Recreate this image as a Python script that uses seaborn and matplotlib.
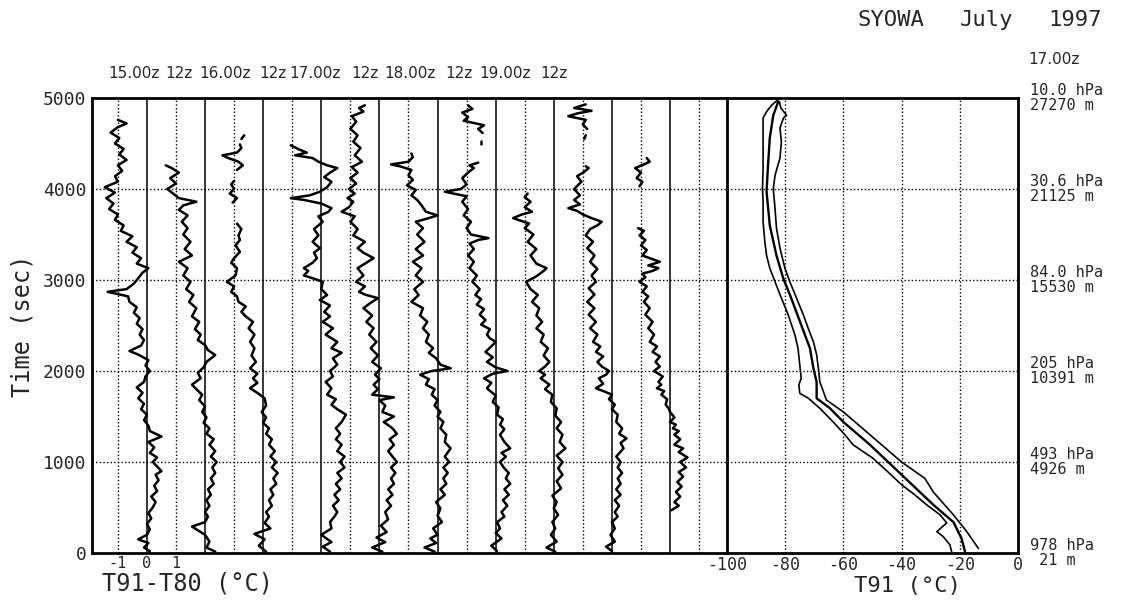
import numpy as np
import pandas as pd
import matplotlib
matplotlib.use("Agg")
import matplotlib.pyplot as plt
import matplotlib.transforms as mtransforms
import seaborn as sns

nan = float("nan")

# ---------------- data ----------------
launch_labels = ["15.00z", "12z", "16.00z", "12z", "17.00z", "12z", "18.00z", "12z", "19.00z", "12z"]

# T91-T80 difference traces (time in s, difference in degC); nan = gap in record
tr1_t = [20, 60, 110, 150, 200, 260, 320, 380, 440, 500, 560, 620, 680, 740, 800, 860, 900, 950, 1000, 1050,
         1100, 1160, 1220, 1280, 1340, 1400, 1460, 1520, 1580, 1640, 1700, 1760, 1820, 1880, 1940, 2000, 2060,
         2120, 2180, 2220, 2280, 2340, 2400, 2460, 2520, 2580, 2640, 2700, 2760, 2820, 2870, 2900, 2960, 3020,
         3080, 3130, 3180, 3240, 3300, 3360, 3420, 3480, 3540, 3600, 3660, 3720, 3780, 3840, 3900, 3960, 4020,
         4080, 4140, 4200, 4260, 4320, 4380, 4440, 4500, 4560, 4620, 4680, 4720, 4760]
tr1_v = [0.1, -0.1, 0.05, -0.3, 0.0, 0.1, 0.0, 0.15, 0.05, 0.2, 0.3, 0.15, 0.35, 0.25, 0.4, 0.3, 0.5, 0.35, 0.2, 0.35,
         0.1, 0.25, 0.05, 0.5, 0.1, 0.05, -0.1, 0.0, -0.2, -0.1, -0.3, -0.15, -0.35, -0.1, -0.05, 0.1, -0.05,
         0.05, -0.3, -0.6, -0.2, -0.1, -0.25, -0.15, -0.35, -0.25, -0.45, -0.35, -0.6, -0.65, -1.35, -0.7, -0.45, -0.3,
         -0.15, 0.05, -0.35, -0.2, -0.5, -0.35, -0.7, -0.5, -0.9, -0.8, -1.1, -1.0, -1.3, -1.15, -1.4, -1.1, -1.45,
         -1.0, -1.1, -0.85, -1.0, -0.7, -0.95, -0.8, -1.1, -0.95, -1.25, -1.0, -0.7, -1.0]

tr2_t = [15, 60, 125, 200, 290, 340, 400, 450, 520, 580, 640, 700, 760, 820, 880, 940, 1000, 1060, 1120, 1190,
         1250, 1310, 1370, 1430, 1490, 1550, 1610, 1680, 1740, 1800, 1850, 1920, 1980, 2040, 2100, 2175, 2230,
         2285, 2340, 2400, 2460, 2540, 2600, 2690, 2760, 2835, 2900, 2980, 3050, 3130, 3200, 3270, 3340, 3420,
         3500, 3570, 3640, 3710, 3770, 3820, 3860, 3900, 3950, 4000, 4060, 4120, 4180, 4230, 4260]
tr2_v = [0.35, 0.05, 0.15, 0.0, -0.45, 0.0, 0.1, 0.0, 0.15, 0.05, 0.2, 0.1, 0.3, 0.2, 0.35, 0.25, 0.4, 0.2, 0.35, 0.15,
         0.3, 0.05, 0.15, -0.05, 0.05, -0.1, 0.0, -0.2, -0.1, -0.3, -0.45, -0.15, -0.25, -0.05, 0.05, 0.35, 0.1,
         0.0, -0.25, -0.15, -0.35, -0.2, -0.45, -0.3, -0.55, -0.4, -0.65, -0.5, -0.75, -0.6, -0.9, -0.45, -0.7, -0.5,
         -0.75, -0.6, -0.8, -0.6, -0.9, -0.75, -0.3, -0.9, -1.1, -1.3, -1.0, -1.2, -0.9, -1.15, -1.35]

tr3_t = [15, 80, 150, 210, 270, 330, 400, 450, 520, 580, 640, 700, 760, 820, 880, 940, 1000, 1060, 1120, 1190,
         1250, 1310, 1370, 1430, 1490, 1550, 1620, 1700, 1760, 1810, 1870, 1920, 1970, 2030, 2100, 2170, 2250,
         2320, 2400, 2470, 2540, 2600, 2650, 2710, 2760, 2820, 2870, 2930, 2980, 3050, 3130, 3190, 3240, 3310,
         3380, 3440, 3490, 3560, 3620, nan, 3850, 3900, 3950, 4000, 4050, 4090, nan, 4210, 4260, 4300, 4340,
         4370, 4400, 4450, 4490, nan, 4550, 4590]
tr3_v = [0.1, -0.15, 0.05, -0.3, 0.25, 0.05, 0.2, 0.1, 0.3, 0.2, 0.35, 0.25, 0.45, 0.35, 0.5, 0.3, 0.45, 0.25, 0.4, 0.2,
         0.3, 0.1, 0.2, 0.0, 0.1, -0.05, 0.1, 0.05, -0.2, -0.45, -0.2, -0.35, -0.2, -0.45, -0.25, -0.4, -0.3,
         -0.45, -0.3, -0.5, -0.35, -0.6, -0.75, -0.6, -0.85, -0.9, -1.1, -1.0, -1.25, -0.95, -0.9, -1.1, -1.0, -0.8,
         -0.95, -0.8, -0.85, -0.75, -0.9, nan, -1.05, -0.9, -1.15, -1.0, -1.1, -1.0, nan, -0.9, -0.7, -0.85, -1.2,
         -1.4, -0.9, -0.75, -0.8, nan, -0.75, -0.65]

tr4_t = [15, 70, 120, 200, 270, 340, 400, 450, 520, 580, 640, 700, 760, 820, 880, 940, 1000, 1060, 1120, 1190,
         1250, 1310, 1370, 1440, 1520, 1580, 1630, 1690, 1740, 1810, 1880, 1940, 2000, 2070, 2140, 2200, 2250,
         2320, 2400, 2470, 2540, 2600, 2650, 2720, 2780, 2835, 2900, 2980, 3020, 3050, 3100, 3130, 3190, 3240,
         3300, 3350, 3420, 3490, 3560, 3640, 3700, 3750, 3790, 3840, 3880, 3900, 3930, 3970, 4020, 4080, 4130,
         4180, 4230, 4260, 4300, 4340, 4370, 4400, 4440, 4480]
tr4_v = [0.3, 0.05, 0.35, 0.0, 0.35, 0.3, 0.45, 0.55, 0.4, 0.6, 0.45, 0.65, 0.5, 0.7, 0.55, 0.8, 0.65, 0.8, 0.55, 0.7,
         0.5, 0.65, 0.5, 0.7, 0.85, 0.55, 0.35, 0.5, 0.2, 0.35, 0.15, 0.4, 0.3, 0.55, 0.4, 0.7, 0.35,
         0.55, 0.15, 0.4, 0.05, 0.3, 0.1, 0.3, -0.05, 0.2, 0.0, 0.05, -0.3, -0.6, -0.45, -0.6, -0.3, -0.15,
         -0.25, -0.05, -0.3, -0.1, -0.25, 0.05, -0.1, 0.25, 0.35, 0.0, -0.6, -1.05, -0.4, -0.05, 0.2, 0.35, 0.1,
         0.3, 0.55, 0.2, -0.1, -0.3, -0.9, -0.5, -0.8, -1.05]

tr5_t = [15, 60, 120, 170, 230, 300, 370, 450, 520, 580, 640, 700, 760, 820, 880, 940, 1000, 1060, 1120, 1190,
         1250, 1310, 1370, 1440, 1500, 1550, 1620, 1680, 1710, 1740, 1800, 1850, 1910, 1960, 2030, 2100, 2170,
         2250, 2320, 2400, 2470, 2540, 2610, 2690, 2750, 2800, 2840, 2870, 2930, 2980, 3050, 3130, 3190, 3240,
         3300, 3350, 3420, 3490, 3560, 3640, 3700, 3750, 3800, 3860, 3900, 3950, 4000, 4060, 4120, 4180, 4240,
         4300, 4370, 4450, 4520, 4590, 4660, 4740, 4800, 4850, 4890, 4920]
tr5_v = [0.1, -0.25, 0.2, -0.1, 0.25, 0.05, 0.3, 0.2, 0.4, 0.25, 0.45, 0.3, 0.5, 0.4, 0.55, 0.4, 0.6, 0.45, 0.3, 0.5,
         0.35, 0.6, 0.45, 0.15, 0.5, 0.1, 0.2, 0.0, 0.5, -0.25, -0.05, -0.2, 0.0, -0.15, 0.05, -0.25, -0.05,
         -0.3, -0.1, -0.35, -0.2, -0.45, -0.25, -0.55, -0.3, -0.05, -0.5, -0.7, -0.5, -0.8, -0.55, -0.75, -0.45, -0.2,
         -0.55, -0.75, -0.5, -0.9, -0.75, -1.0, -0.85, -1.3, -1.05, -0.9, -1.1, -0.85, -1.05, -0.8, -1.0, -0.75, -0.95,
         -0.6, -0.85, -0.65, -0.9, -0.75, -1.0, -0.8, -0.95, -0.55, -0.7, -0.5]

tr6_t = [15, 60, 110, 160, 200, 270, 340, 410, 490, 560, 640, 700, 760, 820, 880, 940, 1000, 1060, 1150, 1220,
         1300, 1370, 1440, 1500, 1550, 1620, 1680, 1740, 1800, 1850, 1910, 1960, 2000, 2030, 2070, 2140, 2200,
         2250, 2320, 2400, 2470, 2540, 2610, 2690, 2760, 2835, 2900, 2980, 3050, 3130, 3200, 3270, 3340, 3420,
         3500, 3570, 3640, 3680, 3710, 3750, 3820, 3880, 3930, 3990, 4040, 4100, 4150, 4210, 4250, 4270, 4300,
         4350, 4390]
tr6_v = [-0.1, -0.45, -0.05, -0.25, 0.0, -0.15, 0.15, 0.0, 0.1, -0.05, 0.25, 0.1, 0.3, 0.2, 0.35, 0.2, 0.4, 0.25, 0.45, 0.25,
         0.3, 0.1, 0.2, 0.0, 0.1, -0.1, 0.0, -0.2, -0.1, -0.4, -0.3, -0.6, -0.2, 0.45, 0.1, -0.05, -0.3,
         -0.15, -0.4, -0.3, -0.5, -0.35, -0.6, -0.5, -0.9, -0.65, -0.8, -0.5, -0.75, -0.55, -0.85, -0.5, -0.75, -0.45,
         -0.7, -0.5, -0.75, -0.3, 0.0, -0.4, -0.55, -0.7, -0.9, -0.75, -1.05, -0.85, -1.0, -0.9, -1.3, -1.6, -1.0,
         -0.85, -0.9]

tr7_t = [20, 80, 160, 220, 270, 340, 400, 450, 520, 580, 640, 700, 760, 820, 880, 930, 1000, 1060, 1100, 1150,
         1220, 1300, 1360, 1410, 1470, 1520, 1600, 1660, 1730, 1810, 1870, 1920, 1970, 2000, 2040, 2100, 2150,
         2210, 2270, 2320, 2360, 2400, 2460, 2510, 2560, 2620, 2680, 2730, 2790, 2835, 2900, 2980, 3050, 3130,
         3200, 3270, 3340, 3400, 3440, 3460, 3500, 3570, 3640, 3710, 3780, 3860, 3920, 3970, 4000, 4050, 4120,
         4180, 4230, 4260, 4290, nan, 4500, 4530, nan, 4615, 4660, 4700, 4750, 4790, 4840, 4880, 4920]
tr7_v = [0.05, -0.15, 0.2, 0.0, 0.15, 0.05, 0.3, 0.2, 0.4, 0.25, 0.45, 0.3, 0.5, 0.35, 0.45, 0.3, 0.15, 0.35, 0.2, 0.5,
         0.3, 0.15, 0.3, 0.15, 0.25, 0.05, 0.1, -0.1, 0.0, -0.3, -0.15, -0.4, -0.1, 0.4, 0.0, -0.3, -0.1,
         -0.35, -0.15, 0.0, -0.2, -0.3, -0.2, -0.5, -0.35, -0.55, -0.4, -0.65, -0.5, -0.7, -0.55, -0.8, -0.65, -0.9,
         -0.75, -0.95, -0.75, -0.9, -0.6, -0.25, -0.85, -1.0, -0.85, -1.1, -0.95, -1.15, -1.0, -1.75, -1.2, -1.0, -1.15,
         -0.95, -0.75, -0.9, -0.6, nan, -0.5, -0.5, nan, -0.45, -0.6, -0.4, -1.1, -0.95, -1.15, -0.8, -0.95]

tr8_t = [15, 60, 125, 200, 270, 340, 420, 490, 560, 630, 710, 790, 860, 930, 1000, 1070, 1150, 1220, 1300, 1370,
         1440, 1510, 1590, 1660, 1740, 1800, 1850, 1920, 1960, 2000, 2050, 2100, 2170, 2250, 2320, 2400, 2470,
         2540, 2610, 2690, 2760, 2835, 2900, 2980, 3040, 3100, 3130, 3180, 3270, 3340, 3420, 3500, 3570, 3620,
         3680, 3720, 3750, 3800, 3860, 3910, 3950]
tr8_v = [0.05, -0.25, 0.1, -0.1, 0.05, -0.05, 0.15, 0.0, 0.1, -0.05, 0.25, 0.1, 0.3, 0.15, 0.3, 0.1, 0.4, 0.2, 0.3, 0.1,
         0.25, 0.05, 0.1, -0.1, -0.05, -0.3, -0.15, -0.45, -0.3, -0.5, -0.3, -0.15, -0.35, -0.2, -0.45, -0.35, -0.6,
         -0.4, -0.6, -0.5, -0.75, -0.55, -0.8, -0.95, -0.6, -0.35, -0.25, -0.6, -0.8, -0.6, -0.9, -0.7, -1.0, -0.85,
         -1.4, -1.1, -0.75, -1.0, -0.8, -1.0, -0.9]

tr9_t = [20, 70, 125, 200, 270, 340, 400, 450, 520, 580, 640, 700, 760, 820, 880, 940, 1000, 1060, 1150, 1210,
         1260, 1310, 1370, 1440, 1520, 1580, 1630, 1690, 1740, 1780, 1810, 1860, 1920, 1960, 2000, 2050, 2100,
         2160, 2210, 2270, 2320, 2400, 2470, 2540, 2620, 2690, 2760, 2840, 2910, 2980, 3050, 3120, 3200, 3270,
         3350, 3420, 3490, 3560, 3600, 3640, 3680, 3720, 3760, 3790, 3830, 3880, 3930, 4000, 4080, 4140, 4190,
         4230, 4250, nan, 4550, 4590, nan, 4660, 4710, 4760, 4800, 4830, 4860, 4890, 4930]
tr9_v = [0.0, -0.2, 0.1, -0.05, 0.1, 0.0, 0.2, 0.1, 0.25, 0.1, 0.3, 0.15, 0.3, 0.2, 0.35, 0.2, 0.3, 0.15, 0.4, 0.3,
         0.5, 0.25, 0.35, 0.15, 0.2, 0.0, 0.1, -0.1, 0.0, -0.3, -0.55, -0.3, -0.45, -0.2, -0.1, -0.35, -0.5,
         -0.3, -0.55, -0.4, -0.65, -0.5, -0.75, -0.55, -0.8, -0.6, -0.85, -0.6, -0.8, -0.55, -0.7, -0.5, -0.75, -0.6,
         -0.85, -0.65, -0.9, -0.75, -0.5, -0.35, -0.7, -1.0, -1.2, -1.5, -1.1, -1.3, -1.1, -1.3, -1.05, -1.2, -0.95,
         -0.8, -0.9, nan, -0.95, -0.9, nan, -0.85, -1.0, -0.9, -1.5, -1.2, -0.7, -1.3, -0.9]

tr10_t = [470, 520, 560, 620, 670, 730, 780, 840, 890, 940, 1000, 1050, 1110, 1150, 1190, 1250, 1300, 1340, 1370,
          1410, 1440, 1490, 1550, 1590, 1630, 1690, 1740, 1780, 1810, 1850, 1880, 1940, 2000, 2050, 2100, 2160,
          2210, 2270, 2320, 2400, 2470, 2540, 2620, 2690, 2760, 2820, 2870, 2930, 2980, 3030, 3070, 3100, 3130,
          3160, 3200, 3240, 3270, 3330, 3380, 3440, 3490, 3540, 3570, nan, 4030, 4080, 4120, 4180, 4230, 4270,
          4300, 4340]
tr10_v = [0.05, 0.3, 0.15, 0.35, 0.2, 0.4, 0.25, 0.45, 0.3, 0.55, 0.35, 0.6, 0.3, 0.45, 0.15, 0.35, 0.15, 0.3, 0.1,
          0.2, 0.0, 0.15, 0.0, -0.05, -0.15, -0.1, -0.3, -0.2, -0.45, -0.3, -0.4, -0.25, -0.55, -0.35, -0.5, -0.35,
          -0.6, -0.45, -0.7, -0.55, -0.75, -0.6, -0.85, -0.7, -0.9, -0.75, -0.95, -0.8, -1.05, -0.85, -0.95, -0.6, -0.4,
          -0.75, -0.35, -0.7, -0.95, -0.8, -1.0, -0.85, -1.05, -0.9, -1.1, nan, -1.05, -0.95, -1.15, -1.0, -1.2, -0.9,
          -0.7, -0.8]

# T91 temperature profiles at 17.00z (time in s, temperature in degC)
cold_t = [15, 90, 180, 235, 330, 420, 530, 640, 750, 900, 1040, 1190, 1300, 1440, 1590, 1700, 1755, 1850, 1920,
          2070, 2250, 2400, 2620, 2800, 2980, 3130, 3270, 3420, 3640, 3860, 4000, 4230, 4450, 4670, 4780, 4850,
          4920, 4980]
cold_T = [-22.8, -23.4, -25.7, -27.9, -24.5, -26.8, -31.4, -35.5, -40.0, -45.0, -49.8, -56.7, -59.5, -63.5, -68.1,
          -72.0, -75.0, -75.3, -74.5, -75.0, -75.6, -76.7, -79.0, -81.3, -83.5, -85.3, -86.4, -87.0, -87.6, -87.6,
          -87.8, -87.6, -87.6, -87.6, -87.6, -86.4, -84.7, -82.5]
mid_t = [15, 160, 340, 530, 860, 1190, 1440, 1590, 1700, 1880, 2030, 2250, 2540, 2840, 3020, 3270, 3600, 3970,
         4260, 4560, 4810, 4960]
mid_T = [-18.2, -19.4, -22.2, -29.1, -40.0, -50.9, -60.0, -64.6, -69.2, -69.2, -70.3, -71.5, -74.9, -78.4, -80.7,
         -83.0, -85.3, -86.4, -85.9, -85.3, -84.1, -82.4]
warm_t = [50, 235, 420, 670, 820, 1000, 1300, 1550, 1680, 1880, 2030, 2180, 2320, 2470, 2620, 2800, 2980, 3130,
          3350, 3570, 3790, 4000, 4150, 4340, 4520, 4670, 4780, 4810, 4890, 4960]
warm_T = [-13.6, -17.6, -22.2, -29.1, -32.0, -40.0, -50.9, -60.0, -65.8, -68.1, -68.6, -69.2, -70.3, -72.1, -73.8,
          -76.1, -78.4, -80.1, -81.8, -83.0, -83.5, -84.1, -83.5, -81.8, -81.3, -81.8, -80.6, -79.5, -81.5, -82.0]

# pressure / height annotations at given times
level_t = [5000, 4000, 3000, 2000, 1000, 0]
level_p = ["10.0 hPa", "30.6 hPa", "84.0 hPa", "205 hPa", "493 hPa", "978 hPa"]
level_z = ["27270 m", "21125 m", "15530 m", "10391 m", "4926 m", " 21 m"]

# ---------------- build frames ----------------
traces = [(tr1_t, tr1_v), (tr2_t, tr2_v), (tr3_t, tr3_v), (tr4_t, tr4_v), (tr5_t, tr5_v),
          (tr6_t, tr6_v), (tr7_t, tr7_v), (tr8_t, tr8_v), (tr9_t, tr9_v), (tr10_t, tr10_v)]
SPACING = 2.0  # each trace is offset by 2 degC on the left panel
rows = []
seg = 0
for i, (ts, vs) in enumerate(traces):
    seg += 1
    for t, v in zip(ts, vs):
        if np.isnan(t) or np.isnan(v):
            seg += 1
            continue
        rows.append({"trace": i, "seg": seg, "t": t, "x": v + SPACING * i})
diff_df = pd.DataFrame(rows)

prof_df = pd.concat([
    pd.DataFrame({"line": "cold", "t": cold_t, "T": cold_T}),
    pd.DataFrame({"line": "mid", "t": mid_t, "T": mid_T}),
    pd.DataFrame({"line": "warm", "t": warm_t, "T": warm_T}),
])

# ---------------- figure ----------------
sns.set_theme(style="white")
plt.rcParams["font.family"] = ["DejaVu Sans Mono", "DejaVu Sans"]
plt.rcParams["axes.unicode_minus"] = False

W, H = 1128, 602
fig = plt.figure(figsize=(W / 100, H / 100), dpi=100)
fig.patch.set_facecolor("white")
x0, xm, x1 = 92, 727, 1018
ytop, ybot = 98, 553
axL = fig.add_axes([x0 / W, 1 - ybot / H, (xm - x0) / W, (ybot - ytop) / H])
axR = fig.add_axes([xm / W, 1 - ybot / H, (x1 - xm) / W, (ybot - ytop) / H], sharey=axL)

dot = (0, (1, 1.6))
for ax in (axL, axR):
    ax.set_facecolor("white")
    for yv in [1000, 2000, 3000, 4000]:
        ax.axhline(yv, color="black", lw=1.0, ls=dot, zorder=1)
    for s in ax.spines.values():
        s.set_color("black")
        s.set_linewidth(2.0)

for k in range(10):
    axL.axvline(SPACING * k, color="black", lw=1.1, zorder=1)
for k in range(-1, 20, 2):
    axL.axvline(k, color="black", lw=1.0, ls=dot, zorder=1)
for xv in [-80, -60, -40, -20]:
    axR.axvline(xv, color="black", lw=1.0, ls=dot, zorder=1)

sns.lineplot(data=diff_df, x="x", y="t", units="seg", estimator=None, sort=False,
             color="black", linewidth=1.8, ax=axL, legend=False, zorder=3)

sns.lineplot(data=prof_df[prof_df.line == "cold"], x="T", y="t", estimator=None, sort=False,
             color="black", linewidth=1.2, ax=axR, legend=False, zorder=3)
sns.lineplot(data=prof_df[prof_df.line == "mid"], x="T", y="t", estimator=None, sort=False,
             color="black", linewidth=1.7, ax=axR, legend=False, zorder=3)
sns.lineplot(data=prof_df[prof_df.line == "warm"], x="T", y="t", estimator=None, sort=False,
             color="black", linewidth=1.2, ax=axR, legend=False, zorder=3)

axL.set_xlim(-1.89, 19.96)
axL.set_ylim(0, 5000)
axR.set_xlim(-100, 0)

axL.set_yticks([0, 1000, 2000, 3000, 4000, 5000])
axL.set_yticklabels(["0", "1000", "2000", "3000", "4000", "5000"], fontsize=13)
axL.set_xticks([-1, 0, 1])
axL.set_xticklabels(["-1", "0", "1"], fontsize=11)
axL.tick_params(length=0, pad=2)
axL.tick_params(axis="y", pad=4)
axL.spines["right"].set_visible(False)

axR.set_xticks([-100, -80, -60, -40, -20, 0])
axR.set_xticklabels(["-100", "-80", "-60", "-40", "-20", "0"], fontsize=12)
axR.tick_params(length=0, pad=2)
axR.tick_params(axis="y", left=False, labelleft=False)

axL.set_xlabel("")
axR.set_xlabel("")
axR.set_ylabel("")
axL.set_ylabel("Time (sec)", fontsize=17, va="center")
axL.yaxis.set_label_coords((22 - x0) / (xm - x0), 0.5)

# axis titles
fig.text(187 / W, 1 - 584 / H, "T91-T80 (°C)", fontsize=17, ha="center", va="center")
fig.text(908 / W, 1 - 586 / H, "T91 (°C)", fontsize=16, ha="center", va="center")

# launch labels along the top
label_px = [134, 179, 225, 273, 315, 365, 410, 459, 505, 554]
for lab, px in zip(launch_labels, label_px):
    fig.text(px / W, 1 - 74 / H, lab, fontsize=11, ha="center", va="center", family="DejaVu Sans")
fig.text(1054 / W, 1 - 59 / H, "17.00z", fontsize=11, ha="center", va="center", family="DejaVu Sans")

# title
for word, px in zip(["SYOWA", "July", "1997"], [891, 987, 1075]):
    fig.text(px / W, 1 - 20 / H, word, fontsize=16, ha="center", va="center")

# pressure / height labels
trans = mtransforms.blended_transform_factory(axR.transAxes, axR.transData)
for t, p, z in zip(level_t, level_p, level_z):
    axR.text((1030 - xm) / (x1 - xm), t, p + "\n" + z, transform=trans, fontsize=11,
             ha="left", va="center", linespacing=0.95, clip_on=False)

fig.savefig("out.png", dpi=100, facecolor="white")
